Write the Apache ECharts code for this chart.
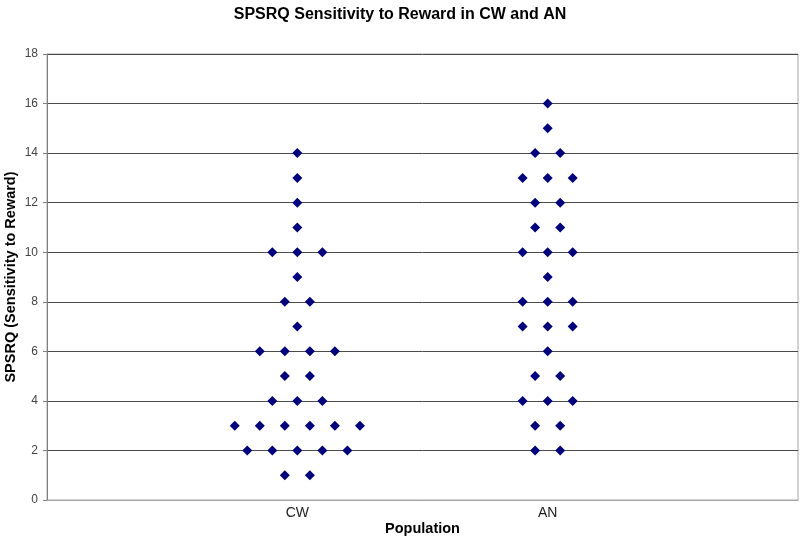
<!DOCTYPE html>
<html>
<head>
<meta charset="utf-8">
<script src="https://cdn.jsdelivr.net/npm/echarts@6/dist/echarts.min.js"></script>
<style>html,body{margin:0;padding:0;background:#fff;}#c{width:800px;height:540px;}</style>
</head>
<body>
<div id="c"></div>
<script>
// Categories and their positions on the x value axis
var categories = ['CW', 'AN'];
var categoryPositions = [1, 2];
// Individual scores (one entry per dot)
var cwScores = [14, 13, 12, 11, 10, 10, 10, 9, 8, 8, 7, 6, 6, 6, 6, 5, 5, 4, 4, 4,
                3, 3, 3, 3, 3, 3, 2, 2, 2, 2, 2, 1, 1];
var anScores = [16, 15, 14, 14, 13, 13, 13, 12, 12, 11, 11, 10, 10, 10, 9, 8, 8, 8,
                7, 7, 7, 6, 5, 5, 4, 4, 4, 3, 3, 2, 2];
var yTicks = [0, 2, 4, 6, 8, 10, 12, 14, 16, 18];

var FONT = '"Liberation Sans", Arial, sans-serif';
var DOT_STEP = 0.05; // horizontal half-spacing of stacked dots (layout only)

function dotPlot(scores, center) {
  var counts = {};
  scores.forEach(function (s) { counts[s] = (counts[s] || 0) + 1; });
  var seen = {};
  return scores.map(function (s) {
    var n = counts[s];
    var i = seen[s] || 0;
    seen[s] = i + 1;
    var off = (2 * i - (n - 1)) * DOT_STEP;
    return [center + off, s];
  });
}

var chart = echarts.init(document.getElementById('c'), null, {renderer: 'canvas'});
chart.setOption({
  animation: false,
  backgroundColor: '#ffffff',
  title: {
    text: 'SPSRQ Sensitivity to Reward in CW and AN',
    left: 'center',
    top: 2,
    textStyle: {fontFamily: FONT, fontSize: 16, fontWeight: 'bold', color: '#000'}
  },
  grid: {
    left: 47, right: 2, top: 54, bottom: 40,
    outerBoundsMode: 'none',
    containLabel: false,
    show: true, borderColor: '#a6a6a6', borderWidth: 1, backgroundColor: '#fff'
  },
  xAxis: {
    type: 'value',
    min: 0, max: 3, interval: 1,
    name: 'Population',
    nameLocation: 'middle',
    nameGap: 21,
    nameMoveOverlap: false,
    nameTextStyle: {fontFamily: FONT, fontSize: 14.5, fontWeight: 'bold', color: '#000'},
    axisLine: {show: true, lineStyle: {color: '#a6a6a6', width: 1}},
    axisTick: {show: false},
    splitLine: {show: false},
    axisLabel: {
      fontFamily: FONT, fontSize: 14, color: '#222', margin: 6,
      formatter: function (v) {
        var idx = categoryPositions.indexOf(v);
        return idx >= 0 ? categories[idx] : '';
      }
    }
  },
  yAxis: {
    type: 'value',
    min: yTicks[0], max: yTicks[yTicks.length - 1], interval: 2,
    name: 'SPSRQ (Sensitivity to Reward)',
    nameLocation: 'middle',
    nameGap: 29,
    nameMoveOverlap: false,
    nameTextStyle: {fontFamily: FONT, fontSize: 14.5, fontWeight: 'bold', color: '#000'},
    axisLine: {show: true, lineStyle: {color: '#808080', width: 1}},
    axisTick: {show: true, length: 4, lineStyle: {color: '#808080'}},
    axisLabel: {fontFamily: FONT, fontSize: 12, color: '#444', margin: 9},
    splitLine: {show: true, lineStyle: {color: '#4a4a4a', width: 1}}
  },
  series: [
    {
      name: 'CW', type: 'scatter', symbol: 'diamond', symbolSize: 10,
      itemStyle: {color: '#000080', opacity: 1},
      data: dotPlot(cwScores, categoryPositions[0])
    },
    {
      name: 'AN', type: 'scatter', symbol: 'diamond', symbolSize: 10,
      itemStyle: {color: '#000080', opacity: 1},
      data: dotPlot(anScores, categoryPositions[1])
    }
  ]
});
</script>
</body>
</html>
